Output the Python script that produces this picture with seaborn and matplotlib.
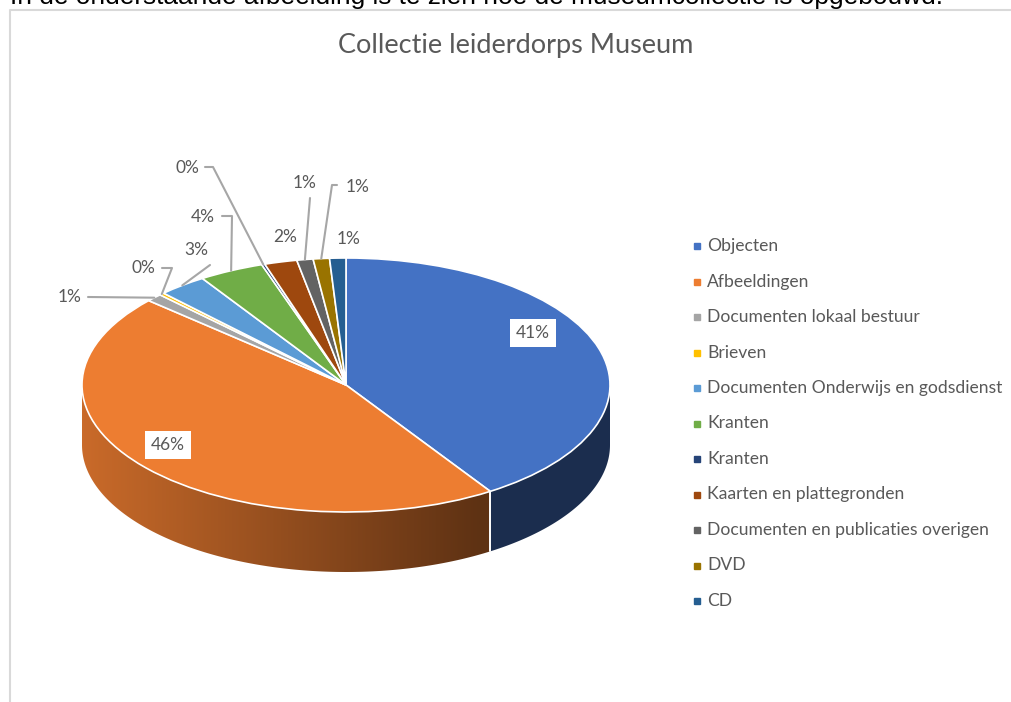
import numpy as np
import matplotlib
matplotlib.use("Agg")
import matplotlib.pyplot as plt
from matplotlib.patches import Polygon
import seaborn as sns

# data
categories = ["Objecten", "Afbeeldingen", "Documenten lokaal bestuur", "Brieven",
              "Documenten Onderwijs en godsdienst", "Kranten", "Kranten",
              "Kaarten en plattegronden", "Documenten en publicaties overigen",
              "DVD", "CD"]
shares = [41, 46, 1, 0.3, 3, 4, 0.2, 2, 1, 1, 1]
colors = ["#4472C4", "#ED7D31", "#A5A5A5", "#FFC000", "#5B9BD5", "#70AD47",
          "#264478", "#9E480E", "#636363", "#997300", "#255E91"]
title = "Collectie leiderdorps Museum"
intro = "In de onderstaande afbeelding is te zien hoe de museumcollectie is opgebouwd."

sns.set_theme(style="white")
plt.rcParams['font.family'] = ['Lato', 'DejaVu Sans']
txt_col = "#595959"

W, H = 1011, 702
fig = plt.figure(figsize=(W / 100, H / 100), dpi=100)

# pie geometry in pixels (layout)
CX, CY, RX, RY, DEPTH = 346, 385, 264, 127, 60

ax = fig.add_axes([0, 0, 1, 1])
wedges, _ = ax.pie(shares, colors=colors, startangle=90, counterclock=False,
                   radius=1, center=(0, 0), frame=False,
                   wedgeprops=dict(edgecolor="white", linewidth=1.2))
for w in wedges:
    w.set_zorder(3)
ax.set_aspect("auto")
xlim = (-CX / RX, (W - CX) / RX)
ylim = ((CY - H) / RY, CY / RY)

# side wall of the 3d pie, shaded darker towards the right
d = DEPTH / RY
total = sum(shares)
bounds = np.concatenate([[0], np.cumsum(shares)]) / total * 360
gx = np.linspace(-1, 1, 400)
shade = np.clip(0.85 - 0.3 * (gx + 1), 0.4, 1)
for i, col in enumerate(colors):
    a0, a1 = max(bounds[i], 90), min(bounds[i + 1], 270)
    if a1 <= a0:
        continue
    base = np.array(matplotlib.colors.to_rgb(col))
    th = np.radians(np.linspace(a0, a1, 200))
    top = np.column_stack([np.sin(th), np.cos(th)])
    bot = np.column_stack([np.sin(th), np.cos(th) - d])[::-1]
    poly = Polygon(np.vstack([top, bot]), closed=True, facecolor="none",
                   edgecolor="none", zorder=1)
    ax.add_patch(poly)
    grad = (shade[None, :, None] * base[None, None, :]).repeat(2, axis=0)
    im = ax.imshow(grad, extent=(-1, 1, -1 - d - 0.05, 0.05), aspect="auto",
                   origin="lower", zorder=1, interpolation="bilinear")
    im.set_clip_path(poly)
    for a in (a0, a1):
        if 90 < a < 270:
            t = np.radians(a)
            ax.plot([np.sin(t), np.sin(t)], [np.cos(t), np.cos(t) - d],
                    color="white", lw=1.2, zorder=2)
ax.set_xlim(*xlim)
ax.set_ylim(*ylim)
ax.axis("off")

# overlay in pixel coordinates
ov = fig.add_axes([0, 0, 1, 1])
ov.set_xlim(0, W)
ov.set_ylim(H, 0)
ov.axis("off")
ov.patch.set_alpha(0)

ov.plot([10, 10, W], [H, 10, 10], color="#D9D9D9", lw=1.5)
ov.text(10, 4, intro, fontsize=18.9, family=["Liberation Sans"], color="black",
        va="baseline", ha="left")
ov.text(516, 45, title, fontsize=19.5, color=txt_col, ha="center", va="center")

# percentage labels
pct = [f"{round(v / total * 100)}%" for v in shares]
mids = (bounds[:-1] + bounds[1:]) / 2
anchor = [(CX + RX * np.sin(np.radians(m)), CY - RY * np.cos(np.radians(m))) for m in mids]

# boxed labels inside big slices
box_pos = {0: (533, 333), 1: (168, 445)}
for i, (x, y) in box_pos.items():
    ov.text(x, y, pct[i], fontsize=12.5, color=txt_col, ha="center", va="center",
            bbox=dict(facecolor="white", edgecolor="none", pad=4))

# outside labels: text position and leader line start points
out_lbl = {
    2: ((70, 297), [(88, 297)]),
    3: ((143, 268), [(162, 268), (172, 268)]),
    4: ((196, 250), [(210, 265)]),
    5: ((203, 217), [(222, 216), (232, 216)]),
    6: ((187, 168), [(205, 167), (213, 167)]),
    7: ((285, 237), []),
    8: ((305, 183), [(310, 198)]),
    9: ((358, 187), [(337, 185), (332, 185)]),
    10: ((349, 239), []),
}
for i, ((x, y), pts) in out_lbl.items():
    ov.text(x, y, pct[i], fontsize=12.5, color=txt_col, ha="center", va="center")
    if pts:
        xs = [p[0] for p in pts] + [anchor[i][0]]
        ys = [p[1] for p in pts] + [anchor[i][1]]
        ov.plot(xs, ys, color="#A6A6A6", lw=1.5, zorder=5)

# legend
for k, (name, col) in enumerate(zip(categories, colors)):
    y = 246 + k * 35.5
    ov.plot(697, y, "s", color=col, ms=5)
    ov.text(707, y, name, fontsize=12.6, color=txt_col, ha="left", va="center")

fig.savefig("out.png", dpi=100)
